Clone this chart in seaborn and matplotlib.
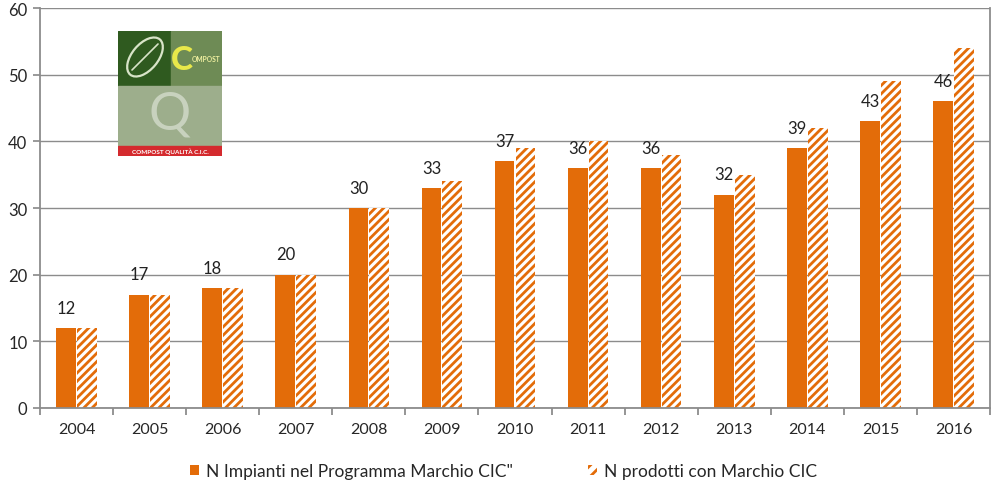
import matplotlib
matplotlib.use("Agg")
import matplotlib.pyplot as plt
import seaborn as sns
import pandas as pd
from matplotlib.patches import Rectangle, Patch, Ellipse

years = ["2004", "2005", "2006", "2007", "2008", "2009", "2010",
         "2011", "2012", "2013", "2014", "2015", "2016"]
impianti = [12, 17, 18, 20, 30, 33, 37, 36, 36, 32, 39, 43, 46]
prodotti = [12, 17, 18, 20, 30, 34, 39, 40, 38, 35, 42, 49, 54]
series_names = ['N Impianti nel Programma Marchio CIC"', "N prodotti con Marchio CIC"]
y_ticks = [0, 10, 20, 30, 40, 50, 60]

ORANGE = "#E36C09"
GRID = "#8C8C8C"

df = pd.DataFrame({
    "year": years * 2,
    "value": impianti + prodotti,
    "series": [series_names[0]] * len(years) + [series_names[1]] * len(years),
})

sns.set_theme(style="white")
plt.rcParams["font.family"] = ["Lato", "DejaVu Sans"]
plt.rcParams["hatch.linewidth"] = 2.0

fig = plt.figure(figsize=(10.07, 4.89), dpi=100)
ax = fig.add_axes([40 / 1007, 1 - 409 / 489, (990 - 40) / 1007, 400 / 489])

sns.barplot(data=df, x="year", y="value", hue="series", order=years,
            hue_order=series_names, palette=[ORANGE, "white"],
            width=0.57, gap=0.05, ax=ax, legend=False, saturation=1)

# style the hatched series
for p in ax.containers[1]:
    p.set_facecolor("white")
    p.set_edgecolor(ORANGE)
    p.set_hatch("////")
    p.set_linewidth(0)
for p in ax.containers[0]:
    p.set_linewidth(0)

# data labels on first series
ax.bar_label(ax.containers[0], labels=[str(v) for v in impianti],
             padding=9, fontsize=12, color="#222222")

ax.set_ylim(0, 60)
ax.set_yticks(y_ticks)
ax.set_xlim(-0.5, len(years) - 0.5)
ax.yaxis.grid(True, color=GRID, linewidth=1)
ax.set_axisbelow(True)
ax.set_xlabel("")
ax.set_ylabel("")
for s in ["left", "bottom", "right"]:
    ax.spines[s].set_color(GRID)
    ax.spines[s].set_linewidth(1.3)
ax.spines["top"].set_visible(False)
ax.tick_params(axis="y", length=5, color=GRID, labelsize=12, pad=4, left=True)
ax.tick_params(axis="x", length=0, labelsize=11.5, pad=10)
# category boundary ticks
ax.set_xticks([i - 0.5 for i in range(len(years) + 1)], minor=True)
ax.tick_params(axis="x", which="minor", length=5, color=GRID, bottom=True, width=1.3)

# legend
handles = [Patch(facecolor=ORANGE, edgecolor="none"),
           Patch(facecolor="white", edgecolor=ORANGE, hatch="///", linewidth=0)]
fig.legend(handles, series_names, loc="center", bbox_to_anchor=(0.5, 1 - 472 / 489),
           ncol=2, frameon=False, fontsize=12.5, handlelength=0.55, handleheight=0.55,
           columnspacing=4.3, handletextpad=0.4)

# logo (drawn as simple shapes)
lax = fig.add_axes([118 / 1007, 1 - 157 / 489, (222 - 118) / 1007, (157 - 32) / 489])
lax.set_xlim(0, 104)
lax.set_ylim(0, 125)
lax.axis("off")
lax.add_patch(Rectangle((0, 70), 53, 55, color="#2F5A1F"))
lax.add_patch(Rectangle((53, 70), 51, 55, color="#6E8B55"))
lax.add_patch(Rectangle((0, 10), 104, 60, color="#9DAE8C"))
lax.add_patch(Rectangle((0, 0), 104, 10, color="#D42A2E"))
lax.add_patch(Ellipse((27, 99), 26, 46, angle=-40, facecolor="none",
                      edgecolor="#D8E4C8", linewidth=1.6))
lax.plot([14, 40], [86, 112], color="#D8E4C8", linewidth=1.2)
lax.text(64, 96, "C", fontsize=24, fontweight="black", color="#E8E84A", ha="center", va="center")
lax.text(88, 98, "OMPOST", fontsize=4.8, fontweight="bold", color="#F0F0A0", ha="center", va="center")
lax.text(52, 42, "Q", fontsize=38, color="#C8D2BE", ha="center", va="center")
lax.text(52, 5, "COMPOST QUALITÀ C.I.C.", fontsize=4.6, fontweight="bold", color="white",
         ha="center", va="center")

fig.savefig("out.png", dpi=100)
